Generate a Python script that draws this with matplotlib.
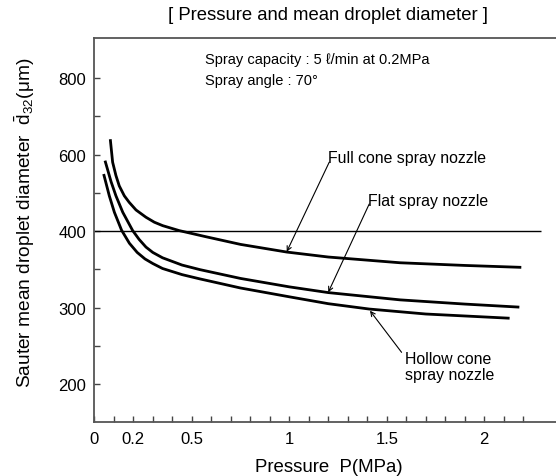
import numpy as np
import matplotlib
matplotlib.use("Agg")
import matplotlib.pyplot as plt

plt.rcParams["font.family"] = ["Liberation Sans", "DejaVu Sans"]
plt.rcParams["mathtext.fontset"] = "custom"
plt.rcParams["mathtext.rm"] = "Liberation Sans"
plt.rcParams["mathtext.it"] = "Liberation Sans:italic"

# pressure (MPa) vs Sauter mean diameter (um)
full_p = [0.082, 0.094, 0.111, 0.128, 0.154, 0.179, 0.214, 0.265, 0.308, 0.351, 0.436,
          0.573, 0.75, 0.987, 1.2, 1.568, 1.9, 2.19]
full_d = [640, 580, 545, 518, 492, 475, 455, 436, 423, 414, 401,
          392.5, 382.5, 372.5, 366, 358.5, 355, 352.5]

flat_p = [0.055, 0.086, 0.111, 0.146, 0.197, 0.23, 0.265, 0.3, 0.35, 0.45, 0.542,
          0.75, 1.0, 1.2, 1.568, 1.9, 2.18]
flat_d = [584, 529, 492, 449, 401, 389, 379, 372, 365, 355.5, 349.5,
          338, 327, 319.5, 310, 304.5, 300.5]

hollow_p = [0.048, 0.077, 0.103, 0.14, 0.18, 0.22, 0.26, 0.3, 0.35, 0.45, 0.54,
            0.75, 1.0, 1.2, 1.41, 1.7, 2.13]
hollow_d = [549, 492, 449, 402, 384, 372, 363.5, 357.5, 351, 343, 337.5,
            325.5, 314, 305, 298, 291.5, 286]

ref_level = 400
ref_end = 2.29

x_major = [0, 0.2, 0.5, 1, 1.5, 2]
x_labels = ["0", "0.2", "0.5", "1", "1.5", "2"]
y_major = [200, 300, 400, 600, 800]
y_minor = [250, 350, 500, 700]


# the y axis is compressed by half above 400
def fwd(y):
    y = np.asarray(y, dtype=float)
    return np.where(y > 400, 400 + (y - 400) / 2, y)


def inv(t):
    t = np.asarray(t, dtype=float)
    return np.where(t > 400, 400 + 2 * (t - 400), t)


fig = plt.figure(figsize=(5.56, 4.77), dpi=100)
ax = fig.add_axes([0.1696, 0.1138, 0.8304, 0.8044])
ax.set_yscale("function", functions=(fwd, inv))
ax.set_xlim(0, 2.368)
ax.set_ylim(150.7, 904.6)

for p, d in [(full_p, full_d), (flat_p, flat_d), (hollow_p, hollow_d)]:
    ax.plot(p, d, color="black", lw=2.0, solid_capstyle="butt", solid_joinstyle="round")

ax.hlines(ref_level, 0, ref_end, color="black", lw=1.0)

ax.set_xticks(x_major)
ax.set_xticklabels(x_labels)
ax.set_xticks(np.arange(0.1, 2.3, 0.1), minor=True)
ax.set_yticks(y_major)
ax.set_yticklabels([str(v) for v in y_major])
ax.set_yticks(y_minor, minor=True)
ax.yaxis.set_minor_formatter(plt.NullFormatter())

ax.tick_params(which="both", direction="in", length=4, width=1.0, color="#444444",
               labelsize=12)
ax.tick_params(axis="y", pad=6)
ax.tick_params(axis="x", pad=7)

ax.spines["right"].set_visible(False)
for s in ["left", "top", "bottom"]:
    ax.spines[s].set_color("#555555")
    ax.spines[s].set_linewidth(1.3)

arrow = dict(arrowstyle="->", lw=0.8, color="black", shrinkA=0, shrinkB=0,
             mutation_scale=8)
ax.text(1.2, 593, "Full cone spray nozzle", fontsize=11.4, va="center", ha="left")
ax.annotate("", xy=(0.987, 372.9), xytext=(1.205, 580), arrowprops=arrow)
ax.text(1.404, 481, "Flat spray nozzle", fontsize=11.4, va="center", ha="left")
ax.annotate("", xy=(1.2, 319.9), xytext=(1.41, 470.6), arrowprops=arrow)
ax.text(1.593, 243, "Hollow cone\nspray nozzle", fontsize=11.4, va="top", ha="left",
        linespacing=1.1)
ax.annotate("", xy=(1.414, 295.8), xytext=(1.576, 241.4), arrowprops=arrow)

W, H = 556, 477
fig.text(205 / W, 1 - 60 / H, "Spray capacity : 5 \u2113/min at 0.2MPa", fontsize=10.5,
         va="center", ha="left")
fig.text(205 / W, 1 - 81 / H, "Spray angle : 70\u00b0", fontsize=10.5, va="center", ha="left")
fig.text(327.5 / W, 1 - 15 / H, "[ Pressure and mean droplet diameter ]", fontsize=13.3,
         va="center", ha="center")

ax.set_xlabel("Pressure  P(MPa)", fontsize=13.4, labelpad=10)
ax.xaxis.set_label_coords(0.507, -0.095)
ax.set_ylabel(r"Sauter mean droplet diameter  $\bar{\mathrm{d}}_{32}$" + "(\u03bcm)",
              fontsize=13.8)
ax.yaxis.set_label_coords(-0.125, 0.52)

fig.savefig("out.png", dpi=100)
